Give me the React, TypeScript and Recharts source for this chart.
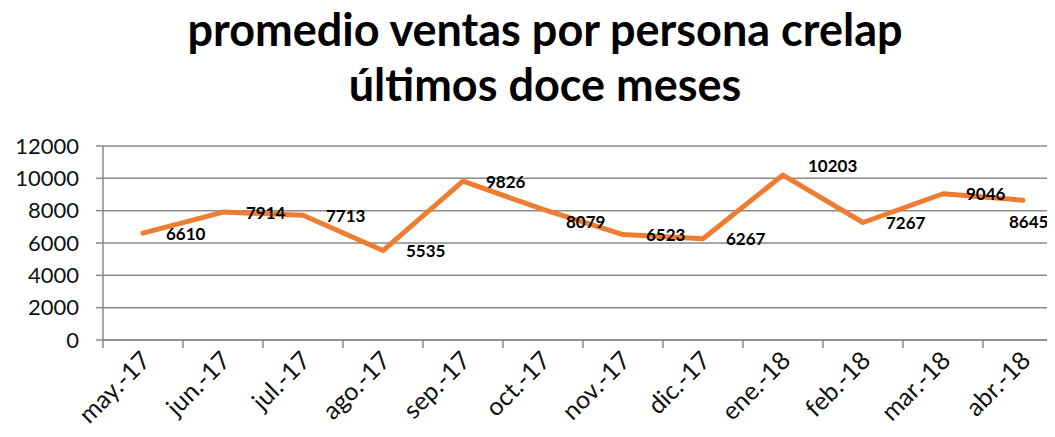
import React from "react";
import { CartesianGrid, LabelList, Line, LineChart, XAxis, YAxis } from "recharts";

const months = [
  "may.-17", "jun.-17", "jul.-17", "ago.-17", "sep.-17", "oct.-17",
  "nov.-17", "dic.-17", "ene.-18", "feb.-18", "mar.-18", "abr.-18",
];
const ventas = [6610, 7914, 7713, 5535, 9826, 8079, 6523, 6267, 10203, 7267, 9046, 8645];
const yTicks = [0, 2000, 4000, 6000, 8000, 10000, 12000];

const data = months.map((m, i) => ({ name: m, ventas: ventas[i] }));

const FONT = "Lato, 'Open Sans', sans-serif";
const HALF_BAND = 40;

// a few labels were nudged by hand in the original
const labelNudge: Record<number, [number, number]> = {
  5: [0, 12],
  8: [2, -10],
  11: [-37, 21],
};

function MonthTick(props: any) {
  const { x, y, payload } = props;
  const ax = x + 9;
  const ay = y + 22;
  return (
    <g>
      <line x1={x - HALF_BAND} y1={y} x2={x - HALF_BAND} y2={y + 8} stroke="#8a8a8a" strokeWidth={1.5} />
      <text
        x={ax}
        y={ay}
        transform={`rotate(-45, ${ax}, ${ay})`}
        textAnchor="end"
        fontFamily={FONT}
        fontSize={25}
        fill="#111"
      >
        {payload.value}
      </text>
    </g>
  );
}

function ValueLabel(props: any) {
  const { x, y, value, index } = props;
  const [nx, ny] = labelNudge[index] || [0, 0];
  return (
    <text
      x={x + 23 + nx}
      y={y + ny}
      dominantBaseline="central"
      textAnchor="start"
      fontFamily={FONT}
      fontWeight={700}
      fontSize={17}
      fill="#000"
    >
      {value}
    </text>
  );
}

export default function App() {
  return (
    <div
      style={{
        position: "relative",
        width: 1055,
        height: 437,
        margin: "-8px 0 0 -8px",
        overflow: "hidden",
        background: "#fff",
      }}
    >
      <div
        style={{
          position: "absolute",
          left: 0,
          top: 2,
          width: 1090,
          textAlign: "center",
          fontFamily: FONT,
          fontWeight: 700,
          fontSize: 45,
          lineHeight: "55px",
          color: "#000",
        }}
      >
        promedio ventas por persona crelap
        <br />
        últimos doce meses
      </div>
      <LineChart
        width={1075}
        height={437}
        data={data}
        margin={{ top: 146, right: 12, left: 0, bottom: 0 }}
      >
        <CartesianGrid vertical={false} stroke="#8a8a8a" strokeWidth={1.5} />
        <XAxis
          dataKey="name"
          height={97}
          padding={{ left: HALF_BAND, right: HALF_BAND }}
          axisLine={{ stroke: "#8a8a8a", strokeWidth: 1.5 }}
          tickLine={false}
          tickSize={0}
          tickMargin={0}
          interval={0}
          tick={<MonthTick />}
        />
        <YAxis
          width={103}
          domain={[0, 12000]}
          ticks={yTicks}
          interval={0}
          axisLine={{ stroke: "#8a8a8a", strokeWidth: 1.5 }}
          tickLine={{ stroke: "#8a8a8a", strokeWidth: 1.5 }}
          tickSize={7}
          tickMargin={17}
          tick={{ fontFamily: FONT, fontSize: 22, fill: "#111" }}
        />
        <Line
          dataKey="ventas"
          stroke="#ED7D31"
          strokeWidth={5}
          strokeLinecap="round"
          strokeLinejoin="round"
          dot={false}
          isAnimationActive={false}
        >
          <LabelList dataKey="ventas" content={<ValueLabel />} />
        </Line>
      </LineChart>
    </div>
  );
}
